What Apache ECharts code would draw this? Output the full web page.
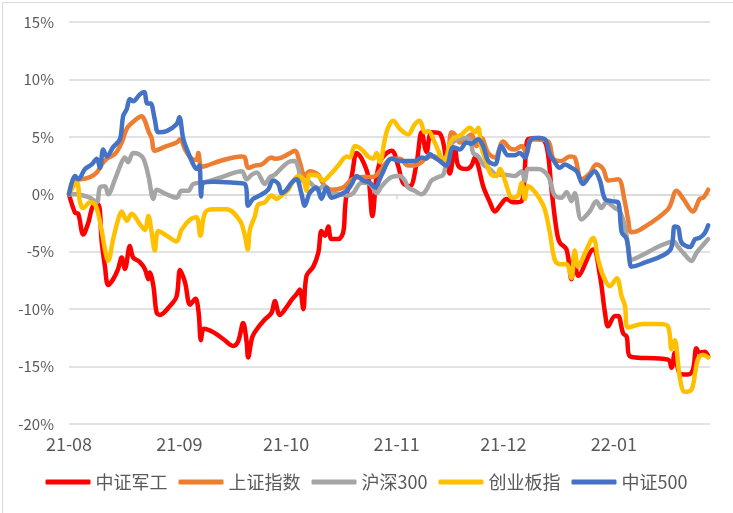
<!DOCTYPE html>
<html>
<head>
<meta charset="utf-8">
<script src="https://cdn.jsdelivr.net/npm/echarts@6/dist/echarts.min.js"></script>
<style>
html,body{margin:0;padding:0;background:#fff;}
#chart{width:733px;height:513px;}
</style>
</head>
<body>
<div id="chart"></div>
<script>
// Day offsets are calendar days counted from 2021-08-01; values are cumulative returns in %.
const seriesNames = ['中证军工', '上证指数', '沪深300', '创业板指', '中证500'];
const xTickLabels = ['21-08', '21-09', '21-10', '21-11', '21-12', '22-01'];
const yTicks = [-20, -15, -10, -5, 0, 5, 10, 15];

const junGong = [
  [0,0],[1.7,-1.6],[2.6,-1.7],[4.0,-3.5],[5.4,-2.5],[6.8,-1.0],[8.2,-0.9],[9.2,-4.2],[10.1,-6.3],[11.0,-7.9],
  [12.4,-7.4],[13.8,-6.5],[14.8,-5.5],[15.7,-6.5],[17.1,-4.5],[18.0,-5.5],[19.9,-5.9],[21.3,-6.5],[22.3,-7.4],[22.7,-6.8],
  [23.7,-8.0],[24.6,-10.3],[25.5,-10.5],[28.4,-9.7],[30.2,-8.9],[31.2,-6.6],[32.6,-7.7],[34.0,-9.6],[35.5,-9.1],[36.4,-10.3],
  [37.05,-12.7],[37.9,-11.7],[40.5,-12.0],[43.3,-12.6],[46.1,-13.2],[47.5,-12.8],[48.9,-11.2],[49.9,-12.9],[50.3,-14.2],[51.5,-12.4],
  [53.1,-11.6],[55.0,-10.9],[56.9,-10.3],[57.8,-9.3],[59.2,-10.5],[61.6,-9.6],[62.5,-9.2],[63.9,-8.7],[64.8,-8.3],[65.8,-10.0],
  [66.7,-7.1],[68.6,-6.3],[70.0,-5.1],[70.9,-3.2],[71.9,-3.6],[72.8,-2.8],[73.7,-3.9],[75.6,-3.9],[77.0,-3.3],[77.5,-1.3],
  [78.0,0.1],[79.4,1.6],[80.8,3.6],[82.2,3.1],[84.0,1.6],[85.2,-1.9],[86.4,1.6],[87.8,3.1],[90.6,3.8],[92.4,2.5],
  [93.8,1.0],[95.7,0.7],[97.6,2.7],[99.0,5.4],[100.4,3.7],[101.8,5.4],[104.1,5.3],[106.0,3.0],[106.9,1.8],[108.4,4.0],
  [109.3,2.5],[111.6,2.2],[113.0,2.5],[114.0,3.2],[114.9,2.5],[116.3,0.7],[118.2,-0.7],[119.6,-1.5],[121.0,-1.0],[122.9,-0.4],
  [124.7,-0.7],[127.1,-0.6],[128.0,2.2],[128.9,4.8],[132.2,4.9],[134.1,4.2],[135.5,0.4],[136.9,-3.1],[137.8,-4.2],[139.7,-4.8],
  [141.1,-7.4],[142.0,-5.2],[143.0,-7.1],[147.2,-4.8],[149.1,-7.1],[150.5,-10.3],[151.4,-11.5],[153.3,-10.6],[154.2,-10.6],[155.6,-12.1],
  [156.6,-12.4],[157.5,-14.1],[168.2,-14.4],[169.2,-15.1],[170.1,-13.8],[171.5,-15.6],[173.8,-15.7],[175.2,-15.3],[176.2,-13.4],[177.1,-13.8],
  [178.5,-13.7],[179.5,-14.1]
];

const shangZheng = [
  [0,0],[1.7,1.3],[3.1,1.3],[5.9,1.5],[7.8,1.9],[9.2,2.6],[10.6,3.1],[12.9,3.5],[14.8,4.5],[16.2,5.7],
  [18.0,6.3],[20.4,6.8],[21.3,6.4],[22.3,5.5],[23.2,4.9],[24.1,3.8],[27.4,4.2],[30.2,4.5],[31.2,4.8],[32.6,3.9],
  [34.4,3.1],[35.8,3.0],[36.3,3.6],[37.2,2.4],[38.7,2.5],[42.4,2.9],[48.5,3.3],[49.4,3.2],[50.3,2.3],[52.2,2.5],
  [54.1,2.6],[56.9,3.2],[57.8,3.1],[59.7,3.2],[61.6,3.5],[63.4,3.8],[64.8,2.8],[66.2,1.6],[67.6,2.0],[70.0,1.7],
  [70.9,1.2],[71.9,0.7],[73.7,0.4],[77.0,0.6],[79.4,1.3],[82.2,1.5],[85.0,1.5],[86.4,1.7],[88.7,2.6],[90.6,3.1],
  [92.9,3.1],[95.2,2.5],[97.1,2.5],[99.0,2.8],[100.9,3.3],[102.7,3.3],[104.6,2.8],[106.0,2.6],[107.4,5.4],[108.4,5.2],
  [109.8,4.5],[111.2,4.8],[113.0,5.2],[114.4,4.2],[115.8,4.9],[117.7,3.6],[119.6,3.2],[121.9,4.6],[123.8,4.0],[125.2,3.9],
  [127.1,4.2],[128.5,3.6],[129.9,4.8],[134.5,4.6],[136.0,3.1],[138.3,2.9],[140.6,3.3],[142.0,3.2],[143.9,1.3],[146.2,1.8],
  [148.1,2.6],[150.0,2.2],[151.4,1.2],[154.2,1.3],[156.1,-0.7],[157.0,-2.2],[157.9,-3.3],[160.3,-3.1],[168.2,-1.3],[170.6,0.3],
  [172.5,-0.4],[175.2,-1.5],[177.1,-0.4],[178.1,-0.3],[179.5,0.4]
];

const huShen300 = [
  [0,0],[1.7,0],[4.0,-0.1],[5.9,-0.3],[7.8,-0.7],[8.7,0.6],[10.1,0.7],[11.0,0],[12.9,1.3],[14.8,2.8],
  [15.7,3.2],[16.6,2.8],[18.0,3.6],[19.5,3.5],[20.9,3.1],[22.3,1.6],[23.7,-0.4],[24.6,0.4],[27.4,0],[30.2,-0.3],
  [31.6,0.3],[33.5,0.3],[34.9,0.9],[38.7,1.1],[42.9,1.5],[48.5,2.0],[49.9,1.3],[51.3,1.7],[52.7,1.9],[55.0,0.9],
  [56.4,1.5],[57.8,1.7],[59.7,2.3],[61.6,2.8],[63.4,2.9],[64.4,2.3],[65.3,1.2],[66.7,1.2],[68.1,0.9],[70.0,0.4],
  [71.4,0.7],[73.3,0.1],[76.1,0],[78.4,-0.1],[79.8,0.1],[82.2,1.0],[84.5,0.9],[86.4,0.1],[87.8,0.7],[90.6,1.5],
  [92.9,1.6],[94.3,1.2],[95.2,0.6],[97.1,0.3],[99.0,0],[100.4,0.4],[101.8,1.2],[103.7,1.5],[105.1,1.7],[106.0,2.9],
  [107.4,4.4],[109.3,4.8],[111.2,4.9],[112.6,4.8],[113.5,3.6],[114.9,3.3],[116.3,2.6],[118.2,2.2],[120.1,1.7],[122.4,1.7],
  [125.2,1.6],[127.1,2.0],[128.0,1.2],[128.9,2.2],[131.7,2.2],[134.5,1.6],[136.4,-0.1],[138.3,-0.3],[139.7,0.2],[141.1,-0.6],
  [142.0,0.1],[143.9,-2.2],[146.2,-1.5],[148.1,-0.6],[149.5,-1.2],[150.9,-0.7],[153.3,-1.2],[154.7,-1.5],[156.1,-2.8],[157.0,-4.5],
  [157.9,-5.7],[160.3,-5.4],[165.9,-4.5],[169.7,-4.1],[171.1,-4.6],[172.5,-5.1],[174.8,-5.8],[176.2,-5.1],[178.1,-4.4],[179.5,-3.9]
];

const chuangYe = [
  [0,0],[2.2,1.0],[3.1,-0.7],[4.0,-1.2],[5.9,-0.7],[7.3,-0.9],[8.2,-1.7],[9.2,-3.2],[10.1,-4.8],[11.0,-5.8],
  [12.4,-3.9],[13.8,-2.2],[14.8,-1.5],[16.2,-2.3],[17.6,-1.7],[19.9,-2.6],[21.3,-3.1],[22.3,-1.9],[23.2,-3.3],[24.1,-4.9],
  [25.1,-3.2],[27.4,-3.6],[30.2,-4.1],[31.6,-3.1],[34.0,-2.2],[35.8,-2.0],[36.9,-3.6],[38.2,-1.6],[40.5,-1.3],[44.3,-1.3],
  [48.0,-2.3],[49.4,-3.6],[50.2,-4.8],[50.8,-3.1],[52.2,-1.9],[53.1,-0.9],[55.0,-0.7],[56.9,-0.1],[58.3,-0.4],[59.7,-0.1],
  [61.6,0.4],[62.5,0.9],[64.4,1.6],[65.8,1.3],[66.7,0.3],[67.6,1.7],[70.0,1.6],[71.4,1.2],[73.3,1.7],[75.6,2.5],
  [78.0,3.3],[78.9,3.2],[80.3,4.2],[82.2,3.9],[84.0,3.3],[85.4,3.1],[86.4,3.6],[87.3,2.8],[88.7,4.8],[89.6,5.8],
  [91.0,6.4],[92.9,5.7],[95.2,5.2],[97.1,6.1],[98.5,6.4],[99.9,5.4],[100.9,5.5],[102.3,4.8],[103.7,3.8],[105.1,2.9],
  [106.0,3.3],[107.4,4.7],[110.2,5.2],[112.6,5.8],[114.0,5.4],[114.9,5.8],[115.8,4.1],[117.2,2.8],[118.6,1.7],[120.1,1.6],
  [121.0,2.2],[122.4,1.2],[123.8,-0.1],[124.7,-0.3],[126.1,-0.1],[127.1,1.0],[128.0,-0.4],[128.9,0.7],[130.3,0.4],[132.2,-0.4],
  [133.6,-1.3],[135.0,-3.3],[136.4,-5.7],[137.8,-6.1],[139.7,-6.1],[141.1,-7.3],[142.0,-4.9],[143.0,-6.3],[144.9,-5.1],[147.2,-3.8],
  [148.6,-5.7],[150.0,-7.1],[151.9,-8.0],[153.8,-7.3],[155.2,-8.9],[156.1,-9.7],[157.0,-11.6],[161.3,-11.3],[165.9,-11.3],[168.2,-11.5],
  [169.2,-13.5],[170.1,-12.7],[171.5,-15.9],[172.9,-17.2],[174.8,-17.0],[175.8,-15.6],[176.7,-14.3],[178.1,-14.0],[179.5,-14.2]
];

const zhongZheng500 = [
  [0,0],[1.7,1.6],[2.6,1.3],[4.5,2.2],[6.4,2.6],[7.8,3.1],[8.7,2.3],[9.6,3.9],[10.6,3.3],[12.4,4.1],
  [14.3,4.8],[15.2,6.8],[16.2,7.4],[17.1,8.3],[18.0,8.1],[19.9,8.7],[21.1,8.9],[22.0,7.9],[22.9,7.9],[24.1,6.5],
  [25.1,5.4],[27.4,5.5],[30.2,6.1],[31.0,6.7],[32.1,4.8],[33.5,3.6],[34.9,2.6],[35.8,2.2],[36.6,2.5],[37.1,-0.2],
  [37.7,1.0],[40.5,1.1],[46.6,1.0],[49.4,0.9],[50.3,-1.0],[51.7,-0.4],[53.6,-0.1],[55.9,0.4],[57.3,1.2],[58.8,0.9],
  [59.7,0.1],[61.1,0.4],[62.5,1.0],[63.9,1.3],[65.3,0],[66.2,-1.0],[67.6,0.1],[69.5,0.6],[70.9,-0.4],[72.3,0.6],
  [73.7,-0.3],[75.6,-0.1],[78.0,0.3],[79.4,0.9],[80.8,1.6],[82.6,1.2],[84.5,1.0],[85.9,0.6],[87.8,1.7],[90.6,3.1],
  [92.9,2.9],[95.2,2.9],[97.1,2.9],[99.0,3.2],[100.4,3.1],[101.3,3.5],[102.7,3.2],[104.1,2.9],[106.0,2.5],[107.9,4.1],
  [109.8,3.9],[111.6,4.5],[113.0,4.4],[114.9,4.8],[116.3,4.2],[117.7,2.9],[119.6,2.6],[121.4,4.2],[123.3,3.4],[125.2,3.4],
  [126.6,3.6],[128.0,3.2],[129.4,4.6],[130.8,4.9],[133.6,4.8],[135.0,3.5],[136.4,2.8],[137.8,2.3],[139.3,2.6],[140.6,2.4],
  [142.6,2.0],[144.3,0.9],[146.2,1.6],[147.6,2.0],[149.1,1.2],[150.5,-0.4],[152.4,-0.6],[154.2,-0.7],[155.2,-3.3],[156.6,-3.9],
  [157.5,-6.0],[157.9,-6.3],[161.2,-6.0],[168.7,-4.9],[170.1,-2.8],[171.1,-2.9],[172.0,-4.2],[174.4,-4.6],[175.8,-3.9],[177.1,-3.8],
  [178.5,-3.4],[179.5,-2.7]
];

const colors = ['#FF0000', '#ED7D31', '#A5A5A5', '#FFC000', '#4472C4'];
const startDate = new Date(2021, 7, 1).getTime();
const endDate = new Date(2022, 0, 28).getTime();
const DAY = 86400000;
const toTime = arr => arr.map(p => [startDate + p[0] * DAY, p[1]]);
const allData = [junGong, shangZheng, huShen300, chuangYe, zhongZheng500];

const chart = echarts.init(document.getElementById('chart'), null, {renderer: 'canvas'});
const font = '"Noto Sans CJK SC", "Noto Sans", sans-serif';
chart.setOption({
  animation: false,
  backgroundColor: '#fff',
  color: colors,
  graphic: [{
    type: 'rect', left: 0, top: 0, silent: true,
    shape: {width: 732, height: 512},
    style: {fill: 'none', stroke: '#D9D9D9', lineWidth: 1}
  }],
  grid: {left: 69, right: 23, top: 22, bottom: 89, containLabel: false},
  legend: {
    bottom: 17, left: 'center',
    itemWidth: 45, itemHeight: 5, itemGap: 11,
    icon: 'roundRect',
    textStyle: {fontSize: 18, color: '#595959', fontFamily: font},
    data: seriesNames
  },
  xAxis: {
    type: 'time',
    min: startDate, max: endDate,
    axisLine: {show: true, lineStyle: {color: '#D9D9D9', width: 1.5}},
    axisTick: {show: true, length: 5, lineStyle: {color: '#D9D9D9', width: 1.5}},
    splitLine: {show: false},
    axisLabel: {
      fontSize: 18, color: '#595959', fontFamily: font, margin: 11,
      formatter: function (val) {
        const d = new Date(val);
        const idx = (d.getFullYear() - 2021) * 12 + d.getMonth() - 7;
        return xTickLabels[idx] !== undefined && d.getDate() === 1 ? xTickLabels[idx] : '';
      }
    }
  },
  yAxis: {
    type: 'value', min: yTicks[0], max: yTicks[yTicks.length - 1], interval: 5,
    axisLine: {show: false}, axisTick: {show: false},
    splitLine: {lineStyle: {color: '#D9D9D9', width: 1.5}},
    axisLabel: {fontSize: 15, color: '#595959', fontFamily: font, margin: 15, formatter: '{value}%'}
  },
  series: seriesNames.map((name, i) => ({
    name: name, type: 'line', data: toTime(allData[i]),
    showSymbol: false, symbol: 'none', smooth: 0.35,
    lineStyle: {width: 4.5, color: colors[i], cap: 'round', join: 'round'},
    itemStyle: {color: colors[i]}
  }))
});
</script>
</body>
</html>
